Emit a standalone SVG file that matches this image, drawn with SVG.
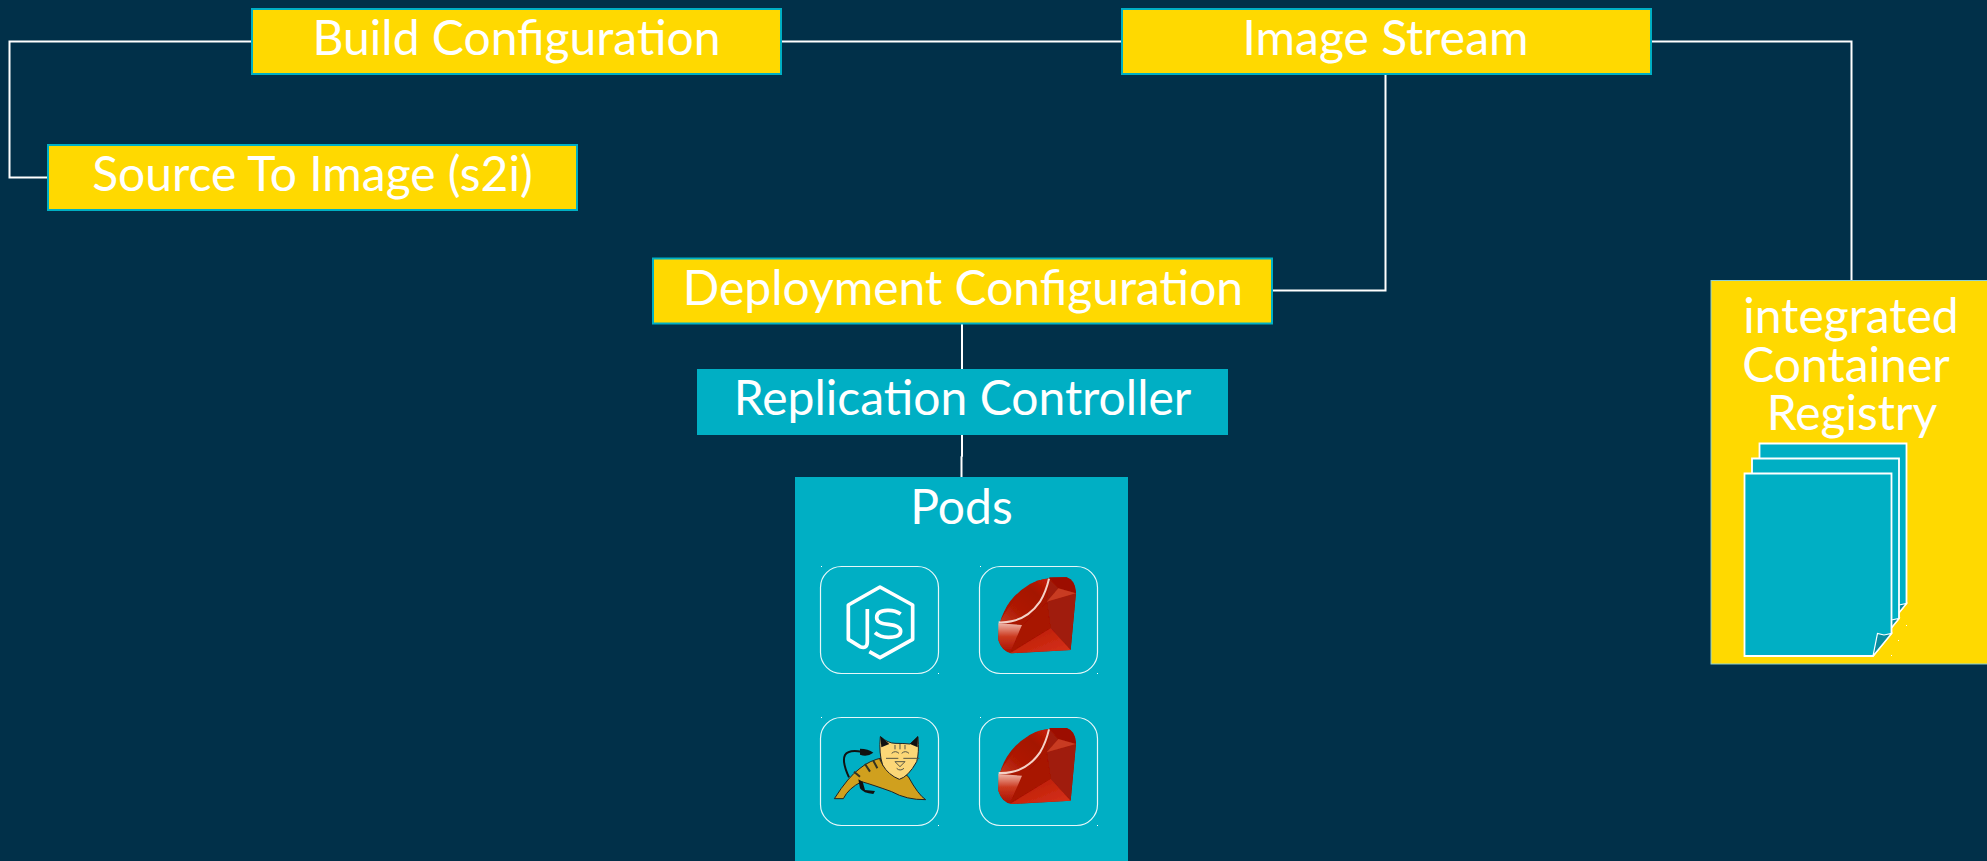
<svg xmlns="http://www.w3.org/2000/svg" xmlns:xlink="http://www.w3.org/1999/xlink" width="1987" height="861" viewBox="0 0 1987 861">
<style>
.bg{fill:#013049}
.y{fill:#ffd900;stroke:#00afc4;stroke-width:2}
.t{fill:#00afc4}
.lbl{font-family:Lato,"Noto Sans",sans-serif;font-size:48px;font-weight:400;fill:#fff;text-anchor:middle;font-variant-ligatures:common-ligatures;text-rendering:optimizeLegibility}
.c{fill:none;stroke:#fff;stroke-width:2}
.ic{fill:none;stroke:#fff;stroke-width:1.2;opacity:.9}
.pg{fill:#00afc4;stroke:#fff;stroke-width:1.800;stroke-linejoin:miter}
.pf{fill:#0a8ca0;stroke:#fff;stroke-width:1.2}
.dot{fill:#fff}
</style>
<defs>
<filter id="soft" x="-5%" y="-5%" width="110%" height="110%"><feGaussianBlur stdDeviation="1.500"/></filter>
<linearGradient id="rt" x1="0" y1="1" x2="1" y2="0"><stop offset="0" stop-color="#c43a22"/><stop offset=".3" stop-color="#b01a04"/><stop offset=".7" stop-color="#a41300"/><stop offset="1" stop-color="#c8200a"/></linearGradient>
<linearGradient id="rl" x1="0" y1="0" x2="0" y2="1"><stop offset="0" stop-color="#efb5a8"/><stop offset=".45" stop-color="#cc3a20"/><stop offset="1" stop-color="#a81000"/></linearGradient>
<linearGradient id="rb2" x1="0" y1="0" x2="1" y2="1"><stop offset="0" stop-color="#b61a04"/><stop offset="1" stop-color="#d8321a"/></linearGradient>
<g id="ruby" filter="url(#soft)">
<path d="M655 540Q654 490 672 455Q695 405 750 372Q790 350 860 352Q885 360 888 395L872 570L695 580Q665 575 655 540Z" fill="#a81400"/>
<path d="M658 488Q690 425 750 375Q780 355 807 356Q800 400 770 440Q730 490 658 488Z" fill="url(#rt)"/>
<path d="M807 352L860 352Q885 360 888 400L835 385Z" fill="#9c1000"/>
<path d="M807 356L835 385L888 400L872 570L812 505L800 420Q805 390 807 356Z" fill="#a01a08"/>
<path d="M835 385L888 400L800 425Z" fill="#c83a20"/>
<path d="M726 495L800 425L812 505L690 578Z" fill="#a81200"/>
<path d="M655 490L726 495L690 578Q665 570 655 540Z" fill="url(#rl)"/>
<path d="M690 580L812 505L872 570Z" fill="url(#rb2)"/>
<path d="M656 487Q735 490 780 425Q798 395 807 356" fill="none" stroke="#f4d2c8" stroke-width="6"/>
</g>
</defs>
<rect class="bg" x="0" y="0" width="1987" height="861"/>
<g id="connectors">
<path class="c" d="M252 41.500H9.500V177.500H48"/>
<path class="c" d="M781 41.500H1122"/>
<path class="c" d="M1651 41.500H1851.500V281"/>
<path class="c" d="M1385.500 74V290.500H1272"/>
<path class="c" d="M962 323V369"/>
<path class="c" d="M962 434V456L961.500 457V477"/>
</g>
<g id="build-configuration"><rect class="y" x="252" y="9" width="529" height="65"/><text class="lbl" x="516.500" y="54.500">Build Configuration</text></g>
<g id="image-stream"><rect class="y" x="1122" y="9" width="529" height="65"/><text class="lbl" x="1385.500" y="54.500">Image Stream</text></g>
<g id="source-to-image"><rect class="y" x="48" y="145" width="529" height="65"/><text class="lbl" x="312.500" y="190.500">Source To Image (s2i)</text></g>
<g id="deployment-configuration"><rect class="y" x="653" y="258.500" width="619" height="65"/><text class="lbl" x="963" y="304.500">Deployment Configuration</text></g>
<g id="replication-controller"><rect class="t" x="697" y="369" width="531" height="66"/><text class="lbl" x="962.500" y="414.500">Replication Controller</text></g>
<g id="pods">
<rect class="t" x="795" y="477" width="333" height="384"/>
<text class="lbl" x="961.500" y="523.500">Pods</text>
<rect class="ic" x="820.500" y="566.500" width="118" height="107" rx="21"/>
<rect class="ic" x="979.500" y="566.500" width="118" height="107" rx="21"/>
<rect class="ic" x="820.500" y="717.500" width="118" height="108" rx="21"/>
<rect class="ic" x="979.500" y="717.500" width="118" height="108" rx="21"/>
<g id="nodejs" transform="translate(780 460) scale(.33333)">
<path d="M268 575L300 593L398 538V435L300 381L205 435V538L240 560Q262 568 262 545V447" fill="none" stroke="#fff" stroke-width="11" stroke-linejoin="round"/>
<path d="M362 462Q345 450 322 451Q290 452 290 473Q290 490 325 493Q362 497 362 514Q362 532 325 532Q300 532 285 518" fill="none" stroke="#fff" stroke-width="11"/>
</g>
<use xlink:href="#ruby" href="#ruby" transform="translate(780 460) scale(.33333)"/>
<use xlink:href="#ruby" href="#ruby" transform="translate(780 610.700) scale(.33333)"/>
<g id="tomcat" transform="translate(780 460) scale(.33333)">
<path d="M207 952Q185 905 195 885Q205 868 245 875" fill="none" stroke="#111" stroke-width="6"/>
<path d="M240 866Q265 866 280 878Q262 892 240 884Z" fill="#111"/>
<path d="M163 1016Q205 950 240 925Q270 900 310 893L385 950Q415 1005 437 1019Q380 1020 335 995Q280 975 245 965Q205 985 190 1016Z" fill="#d0a01e" stroke="#222" stroke-width="3"/>
<path d="M235 958L248 965L255 990L285 993L280 1002Q250 1000 240 985Z" fill="#111"/>
<path d="M255 912L270 935M280 902L292 925M300 897L312 918M222 935L240 950" stroke="#332" stroke-width="6" fill="none"/>
<path d="M301 830Q325 850 345 850Q370 850 390 852L414 830Q418 880 410 905Q385 950 358 958Q325 945 308 915Q296 880 301 830Z" fill="#fcd777" stroke="#222" stroke-width="3"/>
<path d="M301 828L328 852L304 862ZM414 828L390 852L413 862Z" fill="#111"/>
<path d="M335 880Q346 870 357 880M365 880Q376 870 387 880M345 905H375L360 920ZM318 895H355M370 895H418M350 925Q360 935 372 925M345 855V868M360 852V868M375 855V868" fill="none" stroke="#554" stroke-width="3"/>
</g>
<rect class="dot" x="821" y="566" width="1" height="1"/><rect class="dot" x="938" y="673" width="1" height="1"/>
<rect class="dot" x="980" y="566" width="1" height="1"/><rect class="dot" x="1097" y="673" width="1" height="1"/>
<rect class="dot" x="821" y="717" width="1" height="1"/><rect class="dot" x="938" y="825" width="1" height="1"/>
<rect class="dot" x="980" y="717" width="1" height="1"/><rect class="dot" x="1097" y="825" width="1" height="1"/>
</g>
<g id="integrated-container-registry">
<rect x="1711" y="280.500" width="277" height="383.500" fill="#ffd900" stroke="#8fd0d0" stroke-width="1"/>
<text class="lbl" x="1851" y="333">integrated</text>
<text class="lbl" x="1846" y="381.500">Container</text>
<text class="lbl" x="1852" y="430">Registry</text>
<g transform="translate(15 -30)"><path class="pg" d="M1744.500 473.500H1891.500V633.500L1873 656H1744.500Z"/><path class="pf" d="M1873 656L1877.500 633.500L1884 635L1891.500 633.500Z"/></g>
<g transform="translate(7.500 -15)"><path class="pg" d="M1744.500 473.500H1891.500V633.500L1873 656H1744.500Z"/><path class="pf" d="M1873 656L1877.500 633.500L1884 635L1891.500 633.500Z"/></g>
<path class="pg" d="M1744.500 473.500H1891.500V633.500L1873 656H1744.500Z"/><path class="pf" d="M1873 656L1877.500 633.500L1884 635L1891.500 633.500Z"/>
<rect class="dot" x="1906" y="625" width="1" height="1"/><rect class="dot" x="1898" y="640" width="1" height="1"/><rect class="dot" x="1891" y="655" width="1" height="1"/>
</g>
</svg>
